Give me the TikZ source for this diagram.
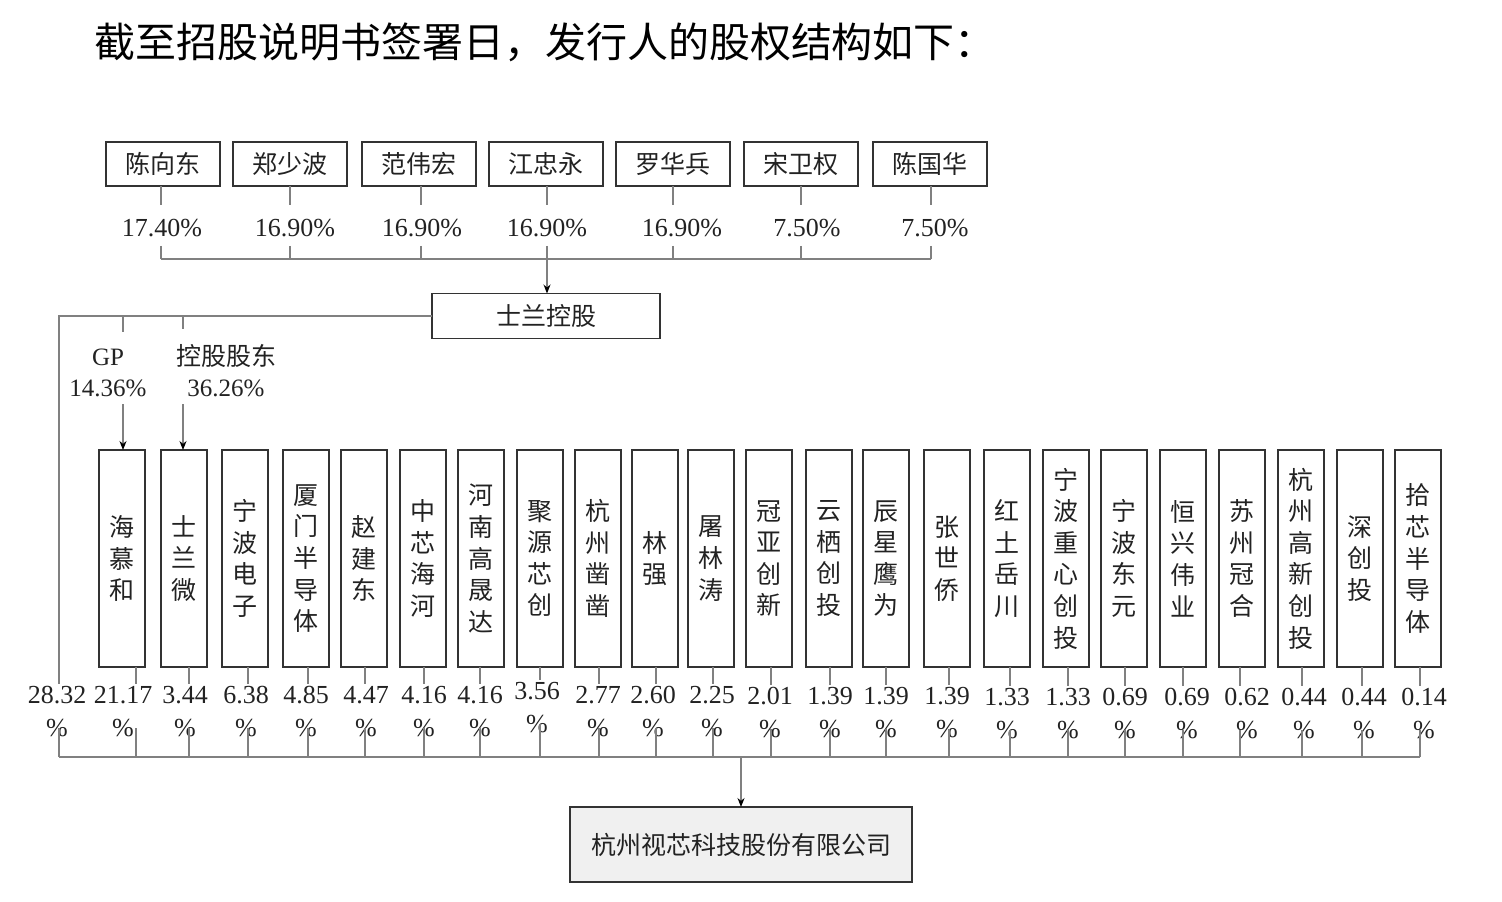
\documentclass[tikz,border=0pt]{standalone}
\usepackage{fontspec}
\setmainfont{Liberation Serif}
\newfontfamily\cjk{Noto Sans CJK SC}
\usetikzlibrary{arrows.meta}
\definecolor{boxc}{HTML}{333333}
\definecolor{linec}{HTML}{808080}
\definecolor{txt}{HTML}{222222}
\definecolor{cofill}{HTML}{F0F0F0}
\begin{document}
\begin{tikzpicture}[x=1pt,y=-1pt,
  every node/.style={inner sep=0pt, outer sep=0pt},
  topbox/.style={draw=boxc, line width=1.8pt, minimum width=114pt, minimum height=44pt, font=\cjk\fontsize{25}{30}\selectfont, text=txt},
  vbox/.style={draw=boxc, line width=1.8pt, minimum width=46pt, minimum height=217pt, align=center, font=\cjk\fontsize{25}{31.6}\selectfont, text=txt},
  pct/.style={font=\fontsize{26}{30}\selectfont, text=txt},
  cjklab/.style={font=\cjk\fontsize{25}{30}\selectfont, text=txt},
  conn/.style={draw=linec, line width=1.2pt},
  arr/.style={conn, -{Stealth[length=9pt,width=7pt,color=black]}}
]
\useasboundingbox (0,0) rectangle (1502,902);

% title
\node[font=\cjk\fontsize{41}{48}\selectfont, text=black] (title) at (545,42) {截至招股说明书签署日，发行人的股权结构如下：};

% top row
\foreach \i/\bx/\name/\lx/\px/\pv in {1/163/陈向东/161/162/17.40,2/290/郑少波/290/295/16.90,3/419/范伟宏/421/422/16.90,4/546/江忠永/547/547/16.90,5/673/罗华兵/673/682/16.90,6/801/宋卫权/801/807/7.50,7/930/陈国华/931/935/7.50}{
  \node[topbox] (t\i) at (\bx,164) {\name};
  \node[pct] (tp\i) at (\px,228) {\pv\%};
  \coordinate (tb\i) at (\lx,259);
  \draw[conn, shorten >=14pt] (t\i.south -| tb\i) -- (tp\i.north -| tb\i);
  \draw[conn, shorten <=9pt] (tp\i.south -| tb\i) -- (tb\i);
}
\draw[conn] (tb1) -- (tb7);

% Shilan holding
\node[draw=boxc, line width=1.8pt, minimum width=228pt, minimum height=45pt, cjklab] (sl) at (546,316) {士兰控股};
\draw[arr] (tb4) -- (sl.north -| tb4);

% labels GP / controlling shareholder
\node[pct, font=\fontsize{25}{30}\selectfont] (gp) at (108,357) {GP};
\node[pct, font=\fontsize{25}{30}\selectfont] (gpp) at (108,388) {14.36\%};
\node[cjklab] (kg) at (226,356) {控股股东};
\node[pct, font=\fontsize{25}{30}\selectfont] (kp) at (226,388) {36.26\%};

% bottom row boxes
\foreach \i/\bx/\txt/\lx/\nx/\ny/\num in {
 1/122/{海\\慕\\和}/136/123/695/21.17,
 2/184/{士\\兰\\微}/189/185/695/3.44,
 3/245/{宁\\波\\电\\子}/248/246/695/6.38,
 4/306/{厦\\门\\半\\导\\体}/308/306/695/4.85,
 5/364/{赵\\建\\东}/365/366/695/4.47,
 6/423/{中\\芯\\海\\河}/424/424/695/4.16,
 7/481/{河\\南\\高\\晟\\达}/480/480/695/4.16,
 8/540/{聚\\源\\芯\\创}/540/537/691/3.56,
 9/598/{杭\\州\\凿\\凿}/599/598/695/2.77,
 10/655/{林\\强}/656/653/695/2.60,
 11/711/{屠\\林\\涛}/713/712/695/2.25,
 12/769/{冠\\亚\\创\\新}/771/770/696/2.01,
 13/829/{云\\栖\\创\\投}/830/830/696/1.39,
 14/886/{辰\\星\\鹰\\为}/886/886/696/1.39,
 15/947/{张\\世\\侨}/949/947/696/1.39,
 16/1007/{红\\土\\岳\\川}/1010/1007/697/1.33,
 17/1066/{宁\\波\\重\\心\\创\\投}/1068/1068/697/1.33,
 18/1124/{宁\\波\\东\\元}/1125/1125/697/0.69,
 19/1183/{恒\\兴\\伟\\业}/1183/1187/697/0.69,
 20/1242/{苏\\州\\冠\\合}/1240/1247/697/0.62,
 21/1301/{杭\\州\\高\\新\\创\\投}/1302/1304/697/0.44,
 22/1360/{深\\创\\投}/1362/1364/697/0.44,
 23/1418/{拾\\芯\\半\\导\\体}/1420/1424/697/0.14}{
  \node[vbox] (b\i) at (\bx,558.5) {\txt};
  \node[pct] (n\i) at (\nx,\ny) {\num};
  \node[pct] (p\i) at (\nx,\ny+33) {\%};
  \coordinate (l\i) at (\lx,757);
  \draw[conn, shorten >=2pt] (b\i.south -| l\i) -- (n\i.north -| l\i);
  \draw[conn] (p\i.center -| l\i) -- (l\i);
}

% left column (direct holding)
\node[pct] (n0) at (57,695) {28.32};
\node[pct] (p0) at (57,728) {\%};
\coordinate (l0) at (59,757);
\draw[conn, shorten >=2pt] (sl.west) -| (n0.north -| l0);
\draw[conn] (p0.center -| l0) -- (l0);

% branches to GP / controlling
\coordinate (g1) at (123,316);
\coordinate (g1e) at (123,332);
\coordinate (g1a) at (123,404);
\coordinate (g2) at (183,316);
\coordinate (g2e) at (183,329);
\coordinate (g2a) at (183,404);
\draw[conn] (g1) -- (g1e);
\draw[conn] (g2) -- (g2e);
\draw[arr] (g1a) -- (b1.north -| g1a);
\draw[arr] (g2a) -- (b2.north -| g2a);

% bottom bus and company
\draw[conn] (l0) -- (l23);
\node[draw=boxc, line width=1.8pt, fill=cofill, minimum width=342pt, minimum height=75pt, cjklab] (co) at (741,844.5) {杭州视芯科技股份有限公司};
\coordinate (cb) at (741,757);
\draw[arr] (cb) -- (co.north -| cb);
\end{tikzpicture}
\end{document}
